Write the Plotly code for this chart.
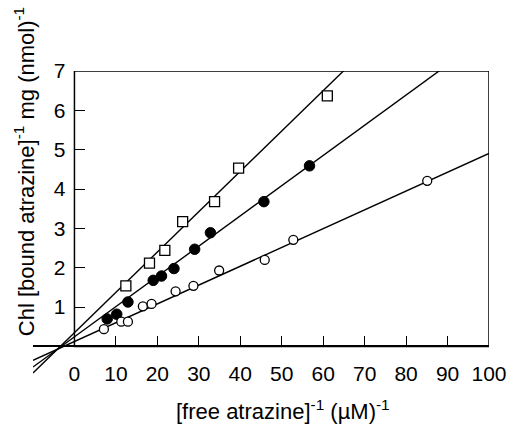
import numpy as np
import plotly.graph_objects as go

# ---- data ----
sq_x = [12.4, 18.1, 21.8, 26.1, 33.8, 39.6, 61.0]
sq_y = [1.54, 2.12, 2.44, 3.17, 3.68, 4.53, 6.37]

fc_x = [7.9, 10.2, 12.9, 19.0, 21.0, 24.0, 29.0, 32.8, 45.7, 56.7]
fc_y = [0.70, 0.82, 1.13, 1.68, 1.79, 1.98, 2.47, 2.89, 3.68, 4.59]

oc_x = [7.1, 11.3, 12.9, 16.5, 18.6, 24.4, 28.7, 34.9, 45.9, 52.8, 85.1]
oc_y = [0.44, 0.63, 0.63, 1.02, 1.08, 1.40, 1.54, 1.93, 2.20, 2.71, 4.21]

# fitted regression lines (slope, intercept)
fit_slopes = [0.1025, 0.0768, 0.0478]
fit_intercepts = [0.35, 0.245, 0.126]
fit_x = np.array([-10.0, 100.0])

x_ticks = [0, 10, 20, 30, 40, 50, 60, 70, 80, 90, 100]
y_ticks = [1, 2, 3, 4, 5, 6, 7]

XMIN, XMAX = -10, 100
YMIN, YMAX = -0.7, 7

FONT = "Liberation Sans, Arial, Helvetica, sans-serif"

fig = go.Figure()

for m, b in zip(fit_slopes, fit_intercepts):
    fig.add_trace(go.Scatter(x=fit_x, y=m * fit_x + b, mode="lines",
                             line=dict(color="black", width=1.4),
                             hoverinfo="skip", showlegend=False))

fig.add_trace(go.Scatter(x=sq_x, y=sq_y, mode="markers",
                         marker=dict(symbol="square", size=10, color="white",
                                     line=dict(color="black", width=1.3)),
                         showlegend=False))
fig.add_trace(go.Scatter(x=fc_x, y=fc_y, mode="markers",
                         marker=dict(symbol="circle", size=10.5, color="black",
                                     line=dict(color="black", width=1)),
                         showlegend=False))
fig.add_trace(go.Scatter(x=oc_x, y=oc_y, mode="markers",
                         marker=dict(symbol="circle", size=9, color="white",
                                     line=dict(color="black", width=1.3)),
                         showlegend=False))

# frame box from x=0..100, y=0..7
fig.add_shape(type="rect", xref="x", yref="y", x0=0, x1=XMAX, y0=0, y1=YMAX,
              line=dict(color="black", width=1.5), fillcolor="rgba(0,0,0,0)",
              layer="above")

fig.update_layout(
    width=519, height=425,
    margin=dict(l=33, r=18, t=71, b=51),
    paper_bgcolor="white", plot_bgcolor="white",
    font=dict(family=FONT, color="black", size=21),
    xaxis=dict(range=[XMIN, XMAX], tickvals=x_ticks,
               ticktext=[str(v) for v in x_ticks],
               anchor="free", position=(0 - YMIN) / (YMAX - YMIN),
               showline=True, linecolor="black", linewidth=1.5,
               ticks="inside", ticklen=10, tickwidth=1.3, tickcolor="black",
               ticklabelstandoff=9,
               showgrid=False, zeroline=False,
               tickfont=dict(size=21, family=FONT)),
    yaxis=dict(range=[YMIN, YMAX], tickvals=y_ticks,
               ticktext=[str(v) for v in y_ticks],
               anchor="free", position=(0 - XMIN) / (XMAX - XMIN),
               showline=False,
               ticks="inside", ticklen=10, tickwidth=1.3, tickcolor="black",
               ticklabelstandoff=9,
               showgrid=False, zeroline=False,
               tickfont=dict(size=21, family=FONT)),
    annotations=[
        dict(text="[free atrazine]<sup>-1</sup> (µM)<sup>-1</sup>",
             xref="paper", yref="paper", x=0.549, y=-0.119,
             xanchor="center", yanchor="middle", showarrow=False,
             font=dict(size=22, family=FONT)),
        dict(text="Chl [bound atrazine]<sup>-1</sup> mg (nmol)<sup>-1</sup>",
             xref="paper", yref="paper", x=-0.019, y=0.667,
             xanchor="center", yanchor="middle", textangle=-90, showarrow=False,
             font=dict(size=22, family=FONT)),
    ],
)

fig.write_html("out.html")
